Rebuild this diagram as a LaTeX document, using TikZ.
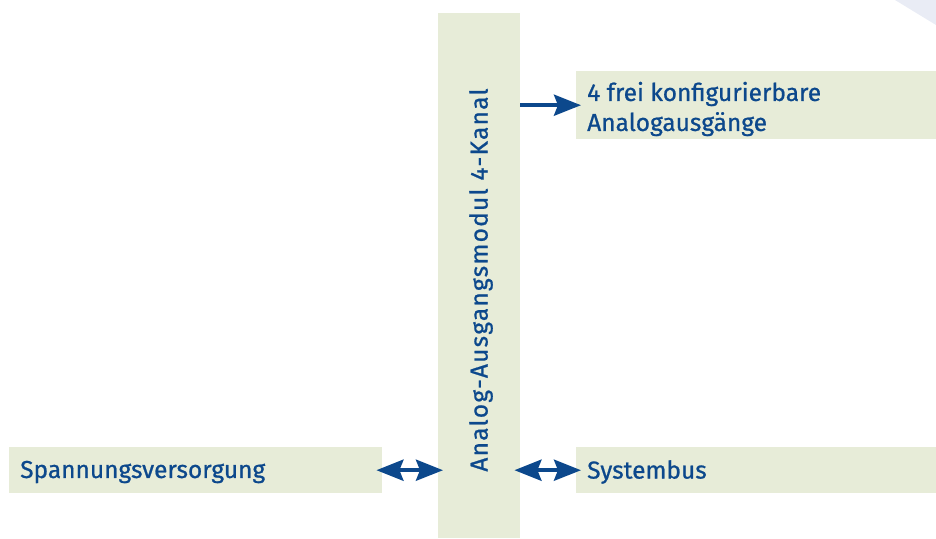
\documentclass[tikz,border=0pt]{standalone}
\usepackage{fontspec}
\setmainfont{Fira Sans}[FakeBold=0.8]
\usetikzlibrary{arrows.meta}
\definecolor{boxfill}{HTML}{E7ECD8}
\definecolor{dblue}{HTML}{0C488C}
\definecolor{trigrey}{HTML}{E9ECF5}
\begin{document}
\begin{tikzpicture}[x=1pt,y=-1pt,
  box/.style={fill=boxfill, draw=none, inner sep=0pt, anchor=north west},
  lbl/.style={text=dblue, font=\fontsize{24.5}{30}\selectfont, align=left, anchor=west, inner sep=0pt},
  tip/.tip={Stealth[length=27pt,width=21pt,inset=4pt]},
  arr/.style={draw=dblue, line width=4pt, -tip},
  darr/.style={draw=dblue, line width=4pt, tip-tip}]
\useasboundingbox (0,0) rectangle (936,538);
\fill[trigrey] (895,0) -- (936,0) -- (936,25) -- cycle;
\node[box, minimum width=82pt, minimum height=525pt] (bar) at (438,13) {};
\node[box, minimum width=360pt, minimum height=68pt] (out) at (576,71) {};
\node[box, minimum width=373pt, minimum height=46pt] (pwr) at (9,447) {};
\node[box, minimum width=360pt, minimum height=46pt] (bus) at (576,447) {};
\node[lbl] (outt) at (587,109) {4 frei konfigurierbare\\Analogausgänge};
\node[lbl] (pwrt) at (20,472) {Spannungsversorgung};
\node[lbl] (bust) at (587,472) {Systembus};
\node[lbl, rotate=90, anchor=center] (bart) at (481,280) {\addfontfeatures{LetterSpace=5}Analog-Ausgangsmodul 4-Kanal};
\draw[arr, shorten >=-5pt] (bar.east |- out.west) -- (out.west);
\draw[darr, shorten >=-5pt, shorten <=-6pt] (pwr.east) -- (bar.west |- pwr.east);
\draw[darr, shorten >=-5pt, shorten <=-6pt] (bar.east |- bus.west) -- (bus.west);
\end{tikzpicture}
\end{document}
